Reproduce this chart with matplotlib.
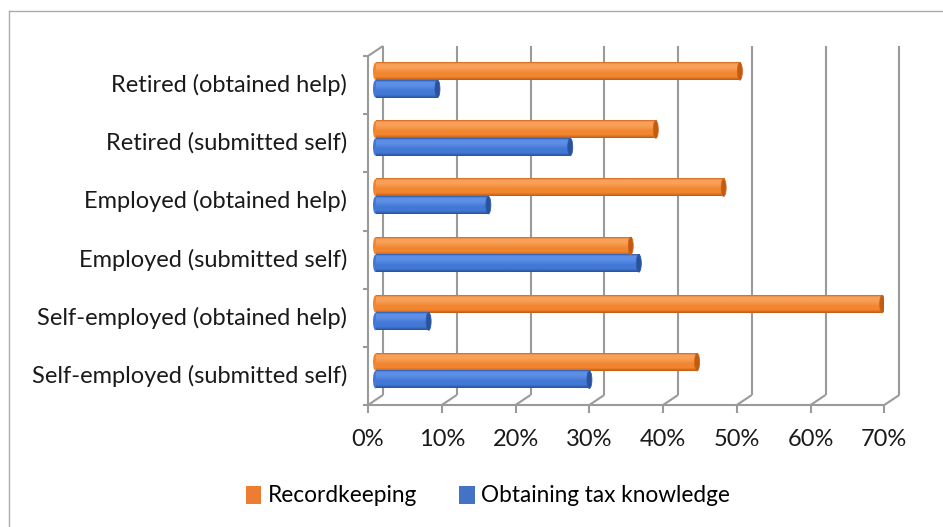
import numpy as np
import matplotlib.pyplot as plt
from matplotlib.patches import Ellipse, Patch
from matplotlib.lines import Line2D
from matplotlib.colors import LinearSegmentedColormap

# data (percent)
categories = ["Self-employed (submitted self)", "Self-employed (obtained help)",
              "Employed (submitted self)", "Employed (obtained help)",
              "Retired (submitted self)", "Retired (obtained help)"]
recordkeeping = [43.6, 68.7, 34.6, 47.2, 38.0, 49.4]
tax_knowledge = [29.0, 7.2, 35.7, 15.3, 26.4, 8.4]
series_names = ["Recordkeeping", "Obtaining tax knowledge"]
x_ticks = [0, 10, 20, 30, 40, 50, 60, 70]
x_labels = ["0%", "10%", "20%", "30%", "40%", "50%", "60%", "70%"]

plt.rcParams['font.family'] = ['Lato', 'DejaVu Sans']
FS = 17

W, H = 943, 527
fig = plt.figure(figsize=(W / 100, H / 100), dpi=100)

# front plane of the fake 3d box, in pixels
left_px, right_px, top_px, bot_px = 368, 884.3, 56, 405
ax = fig.add_axes([left_px / W, 1 - bot_px / H,
                   (right_px - left_px) / W, (bot_px - top_px) / H])
ax.axis('off')

px_x = 70 / (right_px - left_px)
px_y = 6 / (bot_px - top_px)
dX = 15 * px_x      # depth offset
dY = 10 * px_y

grid_c = '#9A9A9A'
kw = dict(color=grid_c, lw=1.5, clip_on=False, solid_capstyle='butt', zorder=1)

# back wall grid, floor edges and ticks
for v in x_ticks:
    ax.plot([v + dX, v + dX], [dY, 6 + dY], **kw)
    ax.plot([v, v + dX], [0, dY], **kw)
    ax.plot([v, v], [0, -8 * px_y], **kw)
ax.plot([0, 70], [0, 0], **kw)
ax.plot([0, 0], [0, 6], **kw)
ax.plot([0, dX], [6, 6 + dY], **kw)
for j in range(7):
    ax.plot([-5 * px_x, 0], [j, j], **kw)


def cylinder(x0, length, yc, h, base, light, dark, edge):
    cmap = LinearSegmentedColormap.from_list(
        'cyl', [(0, edge), (0.1, light), (0.3, light), (0.6, base), (0.82, base), (1, dark)])
    grad = np.linspace(0, 1, 64)[:, None]
    # left rounded end
    ax.add_patch(Ellipse((x0, yc), cap_w, h, facecolor=base, edgecolor='none', zorder=3))
    ax.imshow(grad, cmap=cmap, extent=[x0, x0 + length, yc - h / 2, yc + h / 2],
              aspect='auto', origin='upper', zorder=4, interpolation='bilinear')
    ax.add_patch(Ellipse((x0 + length, yc), cap_w, h, facecolor=dark,
                         edgecolor=edge, lw=0.6, zorder=5))


cap_w = 5 * px_x
bar_h = 17.5 * px_y
x0 = dX / 2
for i in range(len(categories)):
    yc = i + 0.5 + dY / 2
    cylinder(x0, recordkeeping[i], yc + bar_h / 2, bar_h,
             '#F28630', '#F9A05A', '#C25A10', '#D0661A')
    cylinder(x0, tax_knowledge[i], yc - bar_h / 2, bar_h,
             '#4278D6', '#5E8FE6', '#29529A', '#2E5DAD')
    ax.text(-21 * px_x, i + 0.5, categories[i], ha='right', va='center',
            fontsize=FS, color='#1A1A1A')

for v, lab in zip(x_ticks, x_labels):
    ax.text(v, -34 * px_y, lab, ha='center', va='center', fontsize=FS, color='#1A1A1A')

ax.set_xlim(0, 70)
ax.set_ylim(0, 6)

# legend
handles = [Patch(facecolor='#ED7D31'), Patch(facecolor='#4472C4')]
fig.legend(handles, series_names, loc='center', bbox_to_anchor=(488 / W, 1 - 496 / H),
           ncol=2, frameon=False, fontsize=16.3, handlelength=0.68, handleheight=0.85,
           handletextpad=0.3, columnspacing=1.85)

# chart area border (only top and left are inside the picture)
fig.add_artist(Line2D([8.5 / W, 8.5 / W], [0, 1 - 11 / H], color='#ABABAB', lw=1))
fig.add_artist(Line2D([8.5 / W, 1], [1 - 11 / H, 1 - 11 / H], color='#ABABAB', lw=1))

fig.savefig('out.png', dpi=100)
